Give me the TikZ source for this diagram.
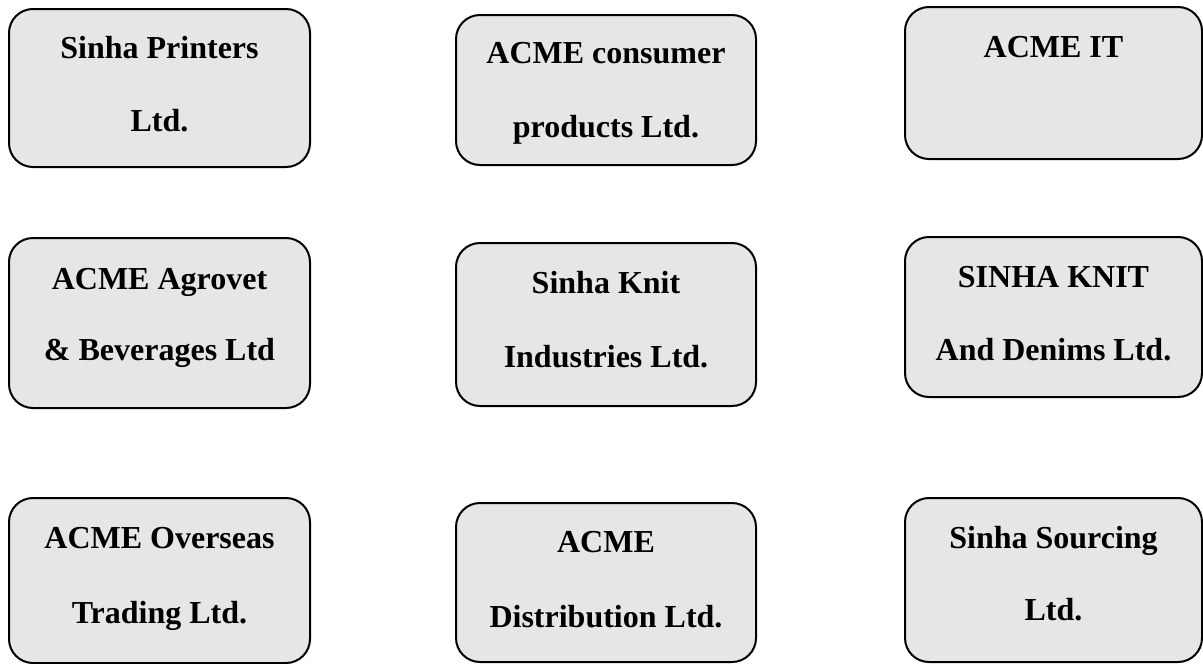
\documentclass[tikz,border=0pt]{standalone}
\usepackage{fontspec}
\setmainfont{Liberation Serif}
\begin{document}
\begin{tikzpicture}[x=1pt,y=-1pt,
  orgbox/.style={draw=black, line width=2pt, fill=boxgray, rounded corners=24pt,
    rectangle, inner sep=0pt, minimum width=#1},
  orgbox/.default=300pt,
  coname/.style={anchor=base, font=\fontsize{32}{36}\selectfont\bfseries, inner sep=0pt},
]
\definecolor{boxgray}{HTML}{E6E6E6}
\useasboundingbox (0,0) rectangle (1203,664);

% row 1
\node[orgbox=301pt, minimum height=158pt] (b1) at (159.5,88) {};
\node[orgbox=300pt, minimum height=150pt] (b2) at (606,90) {};
\node[orgbox=297pt, minimum height=152pt] (b3) at (1053.5,83) {};
% row 2
\node[orgbox=301pt, minimum height=170pt] (b4) at (159.5,323) {};
\node[orgbox=300pt, minimum height=163pt] (b5) at (606,324.5) {};
\node[orgbox=297pt, minimum height=160pt] (b6) at (1053.5,317) {};
% row 3
\node[orgbox=301pt, minimum height=165pt] (b7) at (159.5,580.5) {};
\node[orgbox=300pt, minimum height=159pt] (b8) at (606,582.5) {};
\node[orgbox=297pt, minimum height=164pt] (b9) at (1053.5,580) {};

% company names
\node[coname] (t1a) at (159.5,58) {Sinha Printers};
\node[coname] (t1b) at (159.5,131) {Ltd.};
\node[coname] (t2a) at (606,63) {ACME consumer};
\node[coname] (t2b) at (606,137) {products Ltd.};
\node[coname] (t3a) at (1053.5,57) {ACME IT};

\node[coname] (t4a) at (159.5,289) {ACME Agrovet};
\node[coname] (t4b) at (159.5,360) {\& Beverages Ltd};
\node[coname] (t5a) at (606,293) {Sinha Knit};
\node[coname] (t5b) at (606,367) {Industries Ltd.};
\node[coname] (t6a) at (1053.5,287) {SINHA KNIT};
\node[coname] (t6b) at (1053.5,360) {And Denims Ltd.};

\node[coname] (t7a) at (159.5,548) {ACME Overseas};
\node[coname] (t7b) at (159.5,623) {Trading Ltd.};
\node[coname] (t8a) at (606,552) {ACME};
\node[coname] (t8b) at (606,627) {Distribution Ltd.};
\node[coname] (t9a) at (1053.5,548) {Sinha Sourcing};
\node[coname] (t9b) at (1053.5,620) {Ltd.};
\end{tikzpicture}
\end{document}
